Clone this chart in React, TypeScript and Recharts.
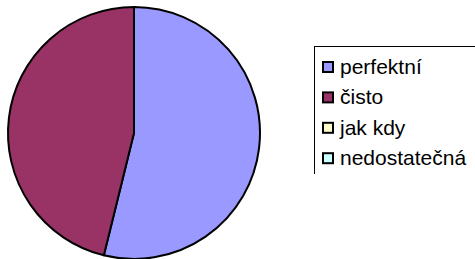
import { PieChart, Pie, Cell, Legend } from 'recharts'

const categories = ['perfektní', 'čisto', 'jak kdy', 'nedostatečná']
const counts = [7, 6, 0, 0]
const colors = ['#9999FF', '#993366', '#FFFFCC', '#CCFFFF']

const data = categories.map((name, i) => ({ name, value: counts[i] }))

function LegendBox() {
  return (
    <svg width={170} height={130} style={{ display: 'block' }}>
      <line x1={0.5} y1={0} x2={0.5} y2={128} stroke="#000" strokeWidth={1} />
      <line x1={0} y1={0.5} x2={170} y2={0.5} stroke="#000" strokeWidth={1} />
      {categories.map((name, i) => {
        const base = 28 + i * 30.4
        return (
          <g key={name}>
            <rect x={9} y={base - 12} width={10} height={10} fill={colors[i]} stroke="#000" strokeWidth={2} />
            <text x={26} y={base} fontSize={21} fontFamily="'Liberation Sans', Arial, sans-serif" fill="#000">
              {name}
            </text>
          </g>
        )
      })}
    </svg>
  )
}

export default function App() {
  return (
    <div style={{ position: 'absolute', left: 0, top: 0, background: '#fff' }}>
      <PieChart width={475} height={259} margin={{ top: 0, right: 0, bottom: 0, left: 0 }}>
        <Pie
          data={data}
          dataKey="value"
          nameKey="name"
          cx={134}
          cy={133}
          outerRadius={126}
          startAngle={90}
          endAngle={-270}
          stroke="#000"
          strokeWidth={2}
          isAnimationActive={false}
        >
          {data.map((d, i) => (
            <Cell key={d.name} fill={colors[i]} />
          ))}
        </Pie>
        <Legend
          content={() => <LegendBox />}
          wrapperStyle={{ position: 'absolute', left: 314, top: 46, width: 170, height: 130 }}
        />
      </PieChart>
    </div>
  )
}
